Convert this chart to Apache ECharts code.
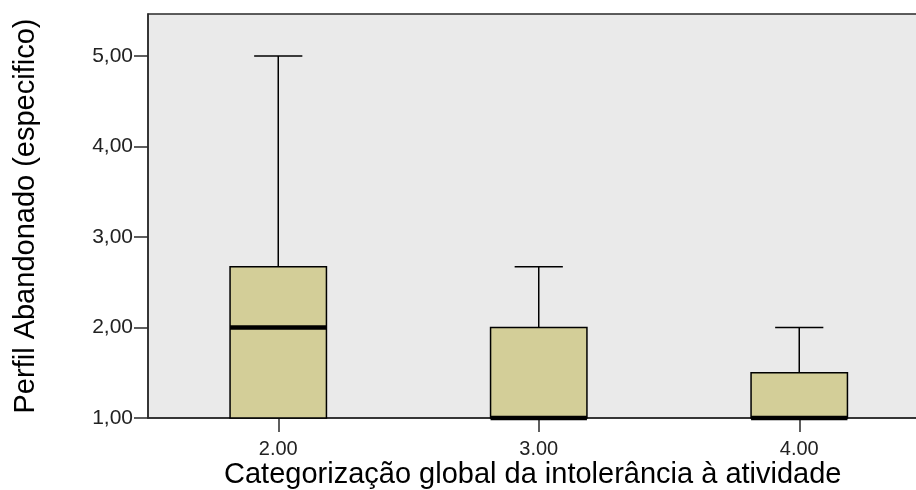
<!DOCTYPE html>
<html>
<head>
<meta charset="utf-8">
<script src="https://cdn.jsdelivr.net/npm/echarts@6/dist/echarts.min.js"></script>
<style>
  html, body { margin: 0; padding: 0; background: #ffffff; overflow: hidden; }
  #chart { width: 930px; height: 490px; }
</style>
</head>
<body>
<div id="chart"></div>
<script>
// Groups on the horizontal axis
const categories = ['2.00', '3.00', '4.00'];
// Five-number summaries per group
const lowWhisker = [1.00, 1.00, 1.00];
const q1Values = [1.00, 1.00, 1.00];
const medianValues = [2.00, 1.00, 1.00];
const q3Values = [2.67, 2.00, 1.50];
const highWhisker = [5.00, 2.67, 2.00];
// Labelled ticks on the value axis
const yTicks = [1, 2, 3, 4, 5];

const xTitle = 'Categorização global da intolerância à atividade';
const yTitle = 'Perfil Abandonado (especifico)';

const boxData = categories.map((c, i) => [i, lowWhisker[i], q1Values[i], medianValues[i], q3Values[i], highWhisker[i]]);

const chart = echarts.init(document.getElementById('chart'), null, { renderer: 'canvas' });

function renderBox(params, api) {
  const idx = api.value(0);
  const band = api.size([1, 0])[0];
  const boxW = band * 0.37;
  const capW = boxW / 2;
  const pLow = api.coord([idx, api.value(1)]);
  const pQ1 = api.coord([idx, api.value(2)]);
  const pMed = api.coord([idx, api.value(3)]);
  const pQ3 = api.coord([idx, api.value(4)]);
  const pHigh = api.coord([idx, api.value(5)]);
  const cx = pQ1[0];
  const lineStyle = { stroke: '#000000', lineWidth: 1.5 };
  const children = [];
  // upper whisker and cap
  children.push({ type: 'line', shape: { x1: cx, y1: pQ3[1], x2: cx, y2: pHigh[1] }, style: lineStyle });
  children.push({ type: 'line', shape: { x1: cx - capW / 2, y1: pHigh[1], x2: cx + capW / 2, y2: pHigh[1] }, style: lineStyle });
  // lower whisker and cap
  if (pLow[1] - pQ1[1] > 0.5) {
    children.push({ type: 'line', shape: { x1: cx, y1: pQ1[1], x2: cx, y2: pLow[1] }, style: lineStyle });
    children.push({ type: 'line', shape: { x1: cx - capW / 2, y1: pLow[1], x2: cx + capW / 2, y2: pLow[1] }, style: lineStyle });
  }
  // box
  children.push({
    type: 'rect',
    shape: { x: cx - boxW / 2, y: pQ3[1], width: boxW, height: pQ1[1] - pQ3[1] },
    style: { fill: '#D3CE98', stroke: '#000000', lineWidth: 1.5 }
  });
  // median
  children.push({
    type: 'line',
    shape: { x1: cx - boxW / 2, y1: pMed[1], x2: cx + boxW / 2, y2: pMed[1] },
    style: { stroke: '#000000', lineWidth: 4.5 }
  });
  return { type: 'group', children: children };
}

chart.setOption({
  animation: false,
  backgroundColor: '#ffffff',
  grid: {
    left: 148, top: 14, right: 0.5, height: 404,
    outerBoundsMode: 'none',
    containLabel: false,
    show: true,
    backgroundColor: '#EAEAEA',
    borderColor: '#2a2a2a',
    borderWidth: 1.5
  },
  xAxis: {
    type: 'category',
    data: categories,
    boundaryGap: true,
    name: xTitle,
    nameLocation: 'middle',
    nameGap: 42,
    nameMoveOverlap: false,
    nameTextStyle: { fontFamily: 'Liberation Sans', fontSize: 29, color: '#000000', padding: [0, 12, 0, 0] },
    axisLine: { show: true, lineStyle: { color: '#2a2a2a', width: 1.5 } },
    axisTick: { show: true, alignWithLabel: true, length: 14, lineStyle: { color: '#2a2a2a', width: 1.5 } },
    axisLabel: { fontFamily: 'Liberation Sans', fontSize: 20, color: '#222222', margin: 21 },
    splitLine: { show: false }
  },
  yAxis: {
    type: 'value',
    min: 1,
    max: 5.464,
    interval: 1,
    name: yTitle,
    nameLocation: 'middle',
    nameRotate: 90,
    nameGap: 108,
    nameMoveOverlap: false,
    nameTextStyle: { fontFamily: 'Liberation Sans', fontSize: 29, color: '#000000' },
    axisLine: { show: true, lineStyle: { color: '#2a2a2a', width: 1.5 } },
    axisTick: { show: true, length: 14, customValues: yTicks, lineStyle: { color: '#2a2a2a', width: 1.5 } },
    axisLabel: {
      fontFamily: 'Liberation Sans', fontSize: 21, color: '#222222', margin: 15,
      customValues: yTicks,
      formatter: v => v.toFixed(2).replace('.', ',')
    },
    splitLine: { show: false }
  },
  series: [{
    type: 'custom',
    renderItem: renderBox,
    encode: { x: 0, y: [1, 2, 3, 4, 5] },
    data: boxData,
    clip: false,
    z: 3
  }]
});
</script>
</body>
</html>
